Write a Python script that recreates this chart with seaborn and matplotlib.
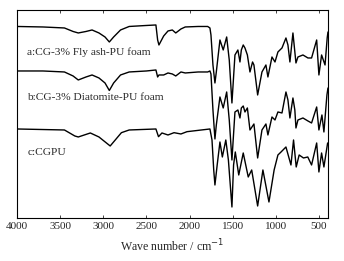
import pandas as pd
import matplotlib
matplotlib.use("Agg")
import matplotlib.pyplot as plt
import seaborn as sns

# wavenumber (cm-1) and relative transmittance
wn_a = [4000, 3700, 3450, 3350, 3290, 3200, 3130, 3050, 2980, 2930, 2880, 2800, 2700, 2500,
        2390, 2370, 2355, 2300, 2250, 2200, 2160, 2100, 2050, 1900, 1790, 1764, 1752, 1729,
        1706, 1690, 1648, 1610, 1570, 1540, 1509, 1474, 1440, 1416, 1400, 1378, 1358, 1330,
        1300, 1270, 1254, 1211, 1161, 1115, 1092, 1045, 1010, 976, 929, 883, 860, 837, 802,
        767, 744, 686, 628, 586, 527, 501, 470, 430, 405, 396]
t_a = [193.5, 193, 192, 188.5, 187, 188.5, 190, 187, 183, 178, 183, 190, 193.5, 194.5,
       195, 180, 175, 184, 189, 190, 187, 191, 193, 193.5, 193.5, 192, 185, 155,
       137, 148, 180, 170, 183, 160, 117, 165, 170, 158, 170, 175, 172, 165,
       148, 158, 155, 125, 148, 155, 143, 163, 158, 168, 172, 182, 175, 158, 187,
       157, 163, 165, 162, 162, 180, 145, 165, 155, 182, 188]

wn_b = [4000, 3700, 3450, 3350, 3290, 3200, 3130, 3050, 2980, 2930, 2880, 2800, 2700, 2500,
        2390, 2370, 2355, 2300, 2250, 2200, 2160, 2100, 2050, 1900, 1790, 1764, 1752, 1729,
        1706, 1690, 1648, 1610, 1570, 1540, 1509, 1474, 1440, 1416, 1400, 1378, 1358, 1330,
        1300, 1254, 1211, 1161, 1115, 1092, 1045, 1010, 976, 929, 883, 860, 837, 802, 780,
        767, 744, 686, 628, 586, 527, 501, 466, 443, 408, 396]
t_b = [149, 149, 148, 144, 140, 143, 145, 142, 137, 129.5, 137, 145, 148, 149,
       150, 143, 145, 145, 147, 146, 144, 148, 147, 148, 148, 149, 146, 110,
       81, 95, 123, 112, 128, 100, 60, 108, 110, 102, 112, 114, 108, 112,
       90, 96, 62, 90, 96, 85, 103, 100, 108, 107, 128, 120, 102, 122, 110,
       92, 100, 102, 99, 97, 113, 90, 105, 88, 125, 132]

wn_c = [4000, 3450, 3330, 3290, 3150, 3050, 2920, 2790, 2700, 2390, 2360, 2320, 2250, 2180,
        2100, 2030, 1764, 1740, 1720, 1706, 1680, 1648, 1620, 1580, 1550, 1509, 1490, 1470,
        1430, 1378, 1320, 1280, 1211, 1150, 1080, 1020, 976, 940, 883, 825, 795, 764, 730,
        680, 630, 586, 527, 501, 470, 443, 400]
t_c = [91, 90, 84, 83, 87, 83, 74, 87.3, 90, 91, 83.3, 87, 85, 87.3,
       86, 88.3, 91, 80, 50, 35, 55, 78, 63, 80, 60, 13, 55, 68,
       45, 67, 43, 50, 14, 50, 18, 50, 65, 68, 73, 55, 80, 53, 65,
       62, 63, 55, 77, 48, 67, 53, 77]

ticks = [4000, 3500, 3000, 2500, 2000, 1500, 1000, 500]
labels = ["a:CG-3% Fly ash-PU foam", "b:CG-3% Diatomite-PU foam", "c:CGPU"]
label_y = [168, 122, 67]

df = pd.concat([
    pd.DataFrame({"wn": wn_a, "T": t_a, "s": "a"}),
    pd.DataFrame({"wn": wn_b, "T": t_b, "s": "b"}),
    pd.DataFrame({"wn": wn_c, "T": t_c, "s": "c"}),
])

sns.set_style("ticks")
plt.rcParams["font.family"] = ["Liberation Serif", "DejaVu Serif"]

fig = plt.figure(figsize=(3.44, 2.61), dpi=100)
ax = fig.add_axes([0.0494, 0.1648, 0.904, 0.797])
sns.lineplot(data=df, x="wn", y="T", hue="s", palette=["black"] * 3, sort=False,
             estimator=None, linewidth=1.0, legend=False, ax=ax)

ax.set_xlim(4000, 396)
ax.set_ylim(2, 210)
ax.set_xticks(ticks)
ax.set_xticklabels([str(t) for t in ticks], fontsize=8)
ax.set_yticks([])
ax.set_ylabel("")
ax.set_xlabel("Wave number / cm$^{-1}$", fontsize=8.6, labelpad=5)
ax.tick_params(axis="x", direction="in", length=2.5, width=0.6, top=True, pad=3)
for sp in ax.spines.values():
    sp.set_linewidth(0.8)
    sp.set_color("black")

for lab, y in zip(labels, label_y):
    ax.text(3880, y, lab, fontsize=8.2, va="center", ha="left")

fig.savefig("out.png", dpi=100)
